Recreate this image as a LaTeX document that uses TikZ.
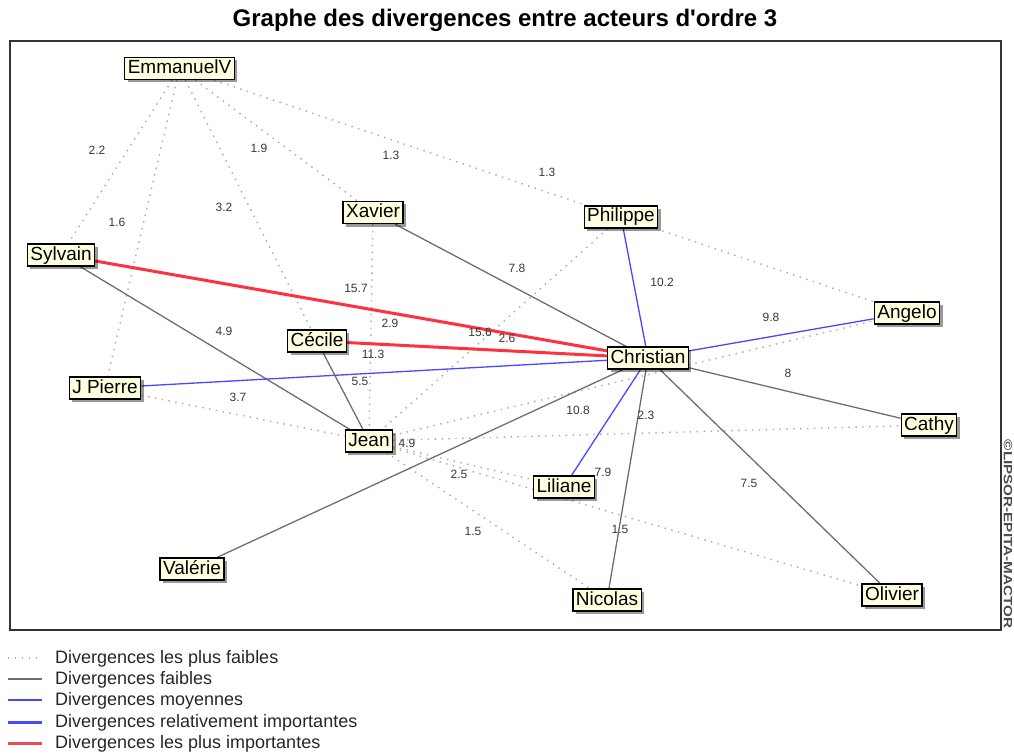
\documentclass[tikz,border=0pt]{standalone}
\usepackage{fontspec}
\setmainfont{Liberation Sans}
\usetikzlibrary{shadows,backgrounds}
\definecolor{nodefill}{HTML}{FFFFE0}
\definecolor{weakc}{HTML}{A8A8A8}
\definecolor{lowc}{HTML}{6E6E6E}
\definecolor{midc}{HTML}{4848FF}
\definecolor{topc}{HTML}{FF3040}
\definecolor{legred}{HTML}{F04858}
\definecolor{labc}{HTML}{383838}
\begin{document}
\begin{tikzpicture}[x=1pt,y=-1pt,
 actor/.style={draw=black,line width=1.3pt,fill=nodefill,inner xsep=3pt,inner ysep=2pt,
   text height=14pt,text depth=4pt,font=\fontsize{19}{20}\selectfont,
   drop shadow={shadow xshift=3pt,shadow yshift=-3pt,fill=black,opacity=0.4}},
 weakest/.style={draw=weakc,line width=1.4pt,dash pattern=on 1.4pt off 5.5pt},
 weak/.style={draw=lowc,line width=1.3pt},
 medium/.style={draw=midc,line width=1.3pt},
 strongish/.style={draw=midc,line width=3pt},
 strongest/.style={draw=topc,line width=3pt},
 val/.style={font=\fontsize{12}{12}\selectfont,text=labc,inner sep=0pt},
 legtext/.style={anchor=west,font=\fontsize{18}{18}\selectfont,text=black!85,inner sep=0pt}
]
\useasboundingbox (0,0) rectangle (1014,754);

% title and frame
\node[font=\fontsize{24}{24}\selectfont\bfseries] (title) at (505,20) {Graphe des divergences entre acteurs d\textquotesingle ordre 3};
\draw[line width=1.5pt,draw=black!80] (10,41) rectangle (1001,630);
\node[rotate=-90,font=\fontsize{12}{12}\selectfont\bfseries,text=black!70,inner sep=0pt] (copy) at (1008,534) {\scalebox{1.27}[1]{©LIPSOR-EPITA-MACTOR}};

% actors
\node[actor] (emm) at (179.5,68.5) {EmmanuelV};
\node[actor] (xav) at (373,212.5) {Xavier};
\node[actor] (phi) at (621,217) {Philippe};
\node[actor] (syl) at (61,255) {Sylvain};
\node[actor] (ang) at (907,313) {Angelo};
\node[actor] (cec) at (317,341) {Cécile};
\node[actor] (chr) at (648,358) {Christian};
\node[actor] (jpi) at (105,388) {J Pierre};
\node[actor] (cat) at (929,425) {Cathy};
\node[actor] (jea) at (369,441) {Jean};
\node[actor] (lil) at (564,487) {Liliane};
\node[actor] (val) at (192,569) {Valérie};
\node[actor] (nic) at (607,600) {Nicolas};
\node[actor] (oli) at (892,595) {Olivier};

% connectors
\begin{scope}[on background layer]
\draw[weakest] (emm) -- (syl);
\draw[weakest] (emm) -- (jpi);
\draw[weakest] (emm) -- (cec);
\draw[weakest] (emm) -- (xav);
\draw[weakest] (emm) -- (phi);
\draw[weakest] (phi) -- (ang);
\draw[weakest] (xav) -- (jea);
\draw[weakest] (phi) -- (jea);
\draw[weakest] (jea) -- (ang);
\draw[weakest] (jea) -- (cat);
\draw[weakest] (jpi) -- (jea);
\draw[weakest] (jea) -- (lil);
\draw[weakest] (jea) -- (oli);
\draw[weakest] (jea) -- (nic);
\draw[weak] (xav) -- (chr);
\draw[weak] (syl) -- (jea);
\draw[weak] (cec) -- (jea);
\draw[weak] (chr) -- (val);
\draw[weak] (chr) -- (nic);
\draw[weak] (chr) -- (oli);
\draw[weak] (chr) -- (cat);
\draw[medium] (phi) -- (chr);
\draw[medium] (chr) -- (ang);
\draw[medium] (jpi) -- (chr);
\draw[medium] (chr) -- (lil);
\draw[strongest] (syl) -- (chr);
\draw[strongest] (cec) -- (chr);
\end{scope}

% values
\node[val] (v1) at (97,150) {2.2};
\node[val] (v2) at (117,222) {1.6};
\node[val] (v3) at (259,148) {1.9};
\node[val] (v4) at (224,207) {3.2};
\node[val] (v5) at (391,155) {1.3};
\node[val] (v6) at (547,172) {1.3};
\node[val] (v7) at (517,268) {7.8};
\node[val] (v8) at (662,282) {10.2};
\node[val] (v9) at (356,288) {15.7};
\node[val] (v10) at (390,323) {2.9};
\node[val] (v11) at (480,332) {15.6};
\node[val] (v12) at (507,338) {2.6};
\node[val] (v13) at (373,354) {11.3};
\node[val] (v14) at (360,381) {5.5};
\node[val] (v15) at (224,331) {4.9};
\node[val] (v16) at (771,317) {9.8};
\node[val] (v17) at (788,373) {8};
\node[val] (v18) at (238,397) {3.7};
\node[val] (v19) at (407,443) {4.9};
\node[val] (v20) at (459,474) {2.5};
\node[val] (v21) at (473,531) {1.5};
\node[val] (v22) at (578,410) {10.8};
\node[val] (v23) at (646,415) {2.3};
\node[val] (v24) at (603,472) {7.9};
\node[val] (v25) at (620,529) {1.5};
\node[val] (v26) at (749,483) {7.5};

% legend
\coordinate (la1) at (8,658);  \coordinate (lb1) at (42,658);
\coordinate (la2) at (8,679);  \coordinate (lb2) at (42,679);
\coordinate (la3) at (8,700);  \coordinate (lb3) at (42,700);
\coordinate (la4) at (8,722);  \coordinate (lb4) at (42,722);
\coordinate (la5) at (8,743);  \coordinate (lb5) at (42,743);
\draw[weakest] (la1) -- (lb1);
\draw[weak] (la2) -- (lb2);
\draw[medium] (la3) -- (lb3);
\draw[strongish] (la4) -- (lb4);
\draw[draw=legred,line width=3pt] (la5) -- (lb5);
\node[legtext] (t1) at (55,659) {Divergences les plus faibles};
\node[legtext] (t2) at (55,680) {Divergences faibles};
\node[legtext] (t3) at (55,701) {Divergences moyennes};
\node[legtext] (t4) at (55,723) {Divergences relativement importantes};
\node[legtext] (t5) at (55,744) {Divergences les plus importantes};
\end{tikzpicture}
\end{document}
